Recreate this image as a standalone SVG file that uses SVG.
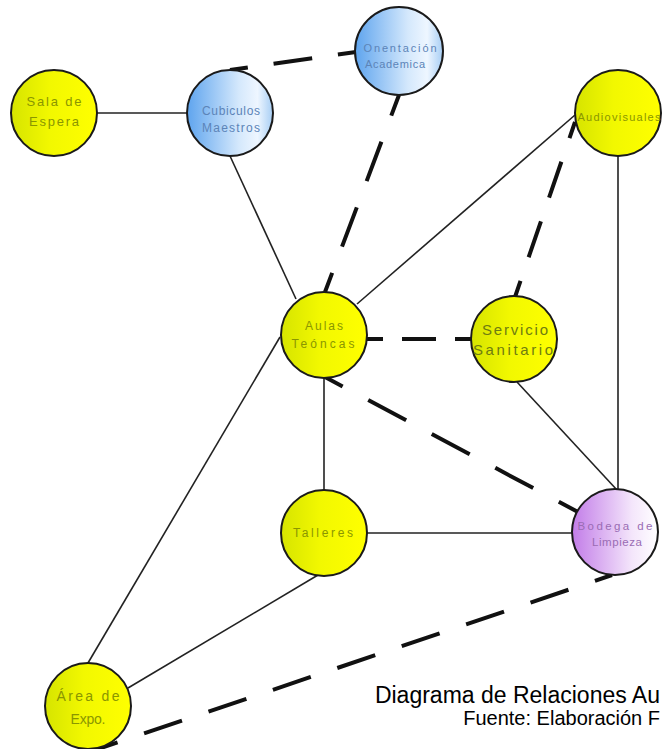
<svg xmlns="http://www.w3.org/2000/svg" width="662" height="749" viewBox="0 0 662 749">
<defs>
<linearGradient id="gY" x1="0" y1="0" x2="1" y2="0">
<stop offset="0" stop-color="#d6e400"/><stop offset="0.45" stop-color="#f2f800"/><stop offset="1" stop-color="#ffff00"/>
</linearGradient>
<linearGradient id="gB" x1="0" y1="0" x2="1" y2="0">
<stop offset="0" stop-color="#5ea4ee"/><stop offset="0.6" stop-color="#d4e8fc"/><stop offset="0.82" stop-color="#eef6ff"/><stop offset="1" stop-color="#a6cdf4"/>
</linearGradient>
<linearGradient id="gP" x1="0" y1="0" x2="1" y2="0">
<stop offset="0" stop-color="#c27ce8"/><stop offset="0.7" stop-color="#f4e6fb"/><stop offset="1" stop-color="#ffffff"/>
</linearGradient>
</defs>
<style>
.n{stroke:#1a1a1a;stroke-width:2}
.y{fill:url(#gY)}
.b{fill:url(#gB)}
.p{fill:url(#gP)}
.t{font-family:"Liberation Sans",Arial,sans-serif;text-anchor:middle}
.ty{fill:#8a9600}
.tb{fill:#5c84b8}
.tp{fill:#9a6cb4}
.s{stroke:#222;stroke-width:1.6;fill:none}
.d{stroke:#111;stroke-width:4;fill:none}
.cap{font-family:"Liberation Sans",Arial,sans-serif;fill:#000;text-anchor:end}
</style>
<rect width="662" height="749" fill="#ffffff"/>
<g id="connectors">
<line class="s" x1="97" y1="113" x2="187" y2="113"/>
<line class="s" x1="230" y1="156" x2="296" y2="299"/>
<line class="s" x1="357" y1="304" x2="575" y2="115"/>
<line class="s" x1="618" y1="156" x2="618" y2="490"/>
<line class="s" x1="517" y1="382" x2="617" y2="490"/>
<line class="s" x1="324" y1="378" x2="324" y2="490"/>
<line class="s" x1="367" y1="533" x2="572" y2="533"/>
<line class="s" x1="280" y1="337" x2="88" y2="663"/>
<line class="s" x1="318" y1="575" x2="128" y2="688"/>
<line class="d" x1="230" y1="70" x2="356" y2="52" stroke-dasharray="39 26" stroke-dashoffset="21"/>
<line class="d" x1="399" y1="95" x2="325" y2="292" stroke-dasharray="42 28" stroke-dashoffset="20"/>
<line class="d" x1="575" y1="122" x2="515" y2="297" stroke-dasharray="38 25" stroke-dashoffset="21"/>
<line class="d" x1="367" y1="339" x2="472" y2="339" stroke-dasharray="34 19" stroke-dashoffset="18"/>
<line class="d" x1="325" y1="377" x2="578" y2="512" stroke-dasharray="43 29" stroke-dashoffset="23"/>
<line class="d" x1="612" y1="575" x2="98" y2="749" stroke-dasharray="40 28" stroke-dashoffset="22"/>
</g>
<g id="sala-espera"><circle class="n y" cx="54" cy="113" r="43"/><text class="t ty" font-size="13" x="54" y="106" textLength="55">Sala de</text><text class="t ty" font-size="13" x="54" y="126" textLength="50">Espera</text></g>
<g id="cubiculos-maestros"><circle class="n b" cx="230" cy="113" r="43"/><text class="t tb" font-size="12" x="231" y="115" textLength="58">Cubiculos</text><text class="t tb" font-size="12" x="231" y="132" textLength="58">Maestros</text></g>
<g id="orientacion-academica"><circle class="n b" cx="399" cy="51" r="44"/><text class="t tb" font-size="11" x="400" y="52" textLength="73">Onentación</text><text class="t tb" font-size="11" x="395" y="68" textLength="60">Academica</text></g>
<g id="audiovisuales"><circle class="n y" cx="618" cy="113" r="43"/><text class="t ty" font-size="11" x="619" y="121" textLength="83">Audiovisuales</text></g>
<g id="aulas-teoricas"><circle class="n y" cx="324" cy="335" r="43"/><text class="t ty" font-size="12" x="324" y="330" textLength="38">Aulas</text><text class="t ty" font-size="12" x="323" y="348" textLength="63">Teóncas</text></g>
<g id="servicio-sanitario"><circle class="n y" cx="514" cy="339" r="43"/><text class="t" fill="#6e7c10" font-size="15" x="515" y="335" textLength="66">Servicio</text><text class="t" fill="#6e7c10" font-size="15" x="513" y="355" textLength="80">Sanitario</text></g>
<g id="talleres"><circle class="n y" cx="324" cy="533" r="43"/><text class="t ty" font-size="12" x="323" y="537" textLength="60">Talleres</text></g>
<g id="bodega-limpieza"><circle class="n p" cx="615" cy="532" r="43"/><text class="t tp" font-size="11.5" x="615" y="530" textLength="75">Bodega de</text><text class="t tp" font-size="11.5" x="617" y="546" textLength="50">Limpieza</text></g>
<g id="area-expo"><circle class="n y" cx="88" cy="706" r="43"/><text class="t ty" font-size="14" x="88" y="701" textLength="63">Área de</text><text class="t ty" font-size="14" x="88" y="724" textLength="35">Expo.</text></g>
<g id="caption">
<text class="cap" font-size="23" x="660" y="703">Diagrama de Relaciones Au</text>
<text class="cap" font-size="20" x="660" y="725">Fuente: Elaboración F</text>
</g>
</svg>
